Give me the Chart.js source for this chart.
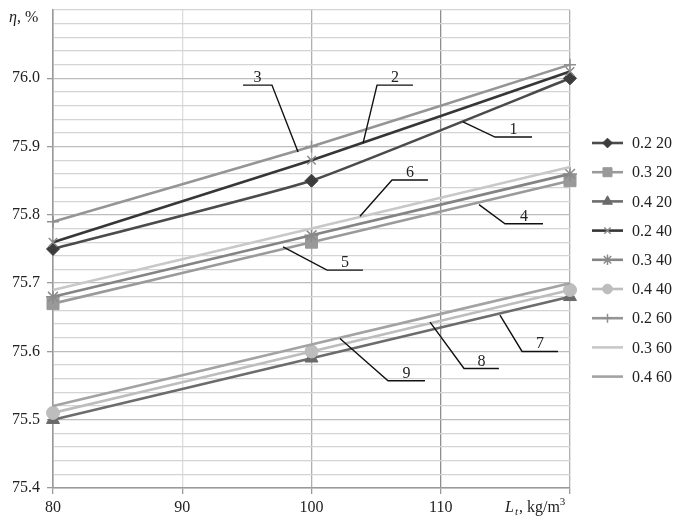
<!DOCTYPE html>
<html>
<head>
<meta charset="utf-8">
<script src="https://cdn.jsdelivr.net/npm/chart.js@4"></script>
<style>
  html, body { margin: 0; padding: 0; background: #fff; }
  #wrap { width: 673px; height: 520px; }
</style>
</head>
<body>
<div id="wrap"><canvas id="chart" width="673" height="520"></canvas></div>
<script>
'use strict'

// x values (Lt, kg/m3)
const xs = [80, 100, 120];

// series: label (airflow, temperature) -> efficiency, %
const labels = ['0.2 20', '0.3 20', '0.4 20', '0.2 40', '0.3 40', '0.4 40', '0.2 60', '0.3 60', '0.4 60'];
const s02_20 = [75.75, 75.85, 76.00];
const s03_20 = [75.67, 75.76, 75.85];
const s04_20 = [75.50, 75.59, 75.68];
const s02_40 = [75.76, 75.88, 76.01];
const s03_40 = [75.68, 75.77, 75.86];
const s04_40 = [75.51, 75.60, 75.69];
const s02_60 = [75.79, 75.90, 76.02];
const s03_60 = [75.69, 75.78, 75.87];
const s04_60 = [75.52, 75.61, 75.70];
const seriesValues = [s02_20, s03_20, s04_20, s02_40, s03_40, s04_40, s02_60, s03_60, s04_60];

// y ticks labelled every 0.1
const yTickLabels = [75.4, 75.5, 75.6, 75.7, 75.8, 75.9, 76.0];
const xTickLabels = [80, 90, 100, 110];

// curve callouts: number, point on curve (x, y), elbow (x, y), end of shelf x
const callouts = [
    ['3', 98.96, 75.892, 96.94, 75.990, 94.7],
    ['2', 103.99, 75.905, 105.07, 75.990, 107.85],
    ['1', 111.72, 75.936, 114.2, 75.914, 117.06],
    ['6', 103.75, 75.798, 106.23, 75.851, 109.01],
    ['5', 97.8, 75.753, 101.2, 75.719, 103.98],
    ['4', 112.96, 75.815, 114.97, 75.787, 117.91],
    ['9', 102.2, 75.619, 105.92, 75.557, 108.78],
    ['8', 109.17, 75.643, 111.8, 75.575, 114.5],
    ['7', 114.58, 75.653, 116.29, 75.600, 119.07]
];

const lineColors = ['#4b4b4b', '#9a9a9a', '#6c6c6c', '#363636', '#848484', '#bdbdbd', '#959595', '#c8c8c8', '#a3a3a3'];
const markColors = ['#3c3c3c', '#999999', '#6a6a6a', '#8a8a8a', '#8a8a8a', '#bdbdbd', '#8f8f8f', '#c8c8c8', '#a3a3a3'];
const markStyles = ['rectRot', 'rect', 'triangle', 'crossRot', 'star', 'circle', 'cross', false, false];
const markRadius = [6.5, 8.5, 7.5, 6, 7, 6.5, 6, 0, 0];

const serif = '"Liberation Serif", "DejaVu Serif", serif';

const datasets = labels.map((lab, i) => ({
    label: lab,
    data: xs.map((x, j) => ({ x: x, y: seriesValues[i][j] })),
    borderColor: lineColors[i],
    backgroundColor: markColors[i],
    pointBackgroundColor: markColors[i],
    pointBorderColor: markColors[i],
    pointStyle: markStyles[i],
    pointRadius: markRadius[i],
    pointBorderWidth: (markStyles[i] === 'crossRot' || markStyles[i] === 'star' || markStyles[i] === 'cross') ? 1.5 : 1,
    borderWidth: 2.6,
    tension: 0.12,
    clip: false,
    order: -i
}));

const majorY = v => yTickLabels.some(t => Math.abs(t - v) < 1e-6);

// legend, axis titles and the numbered callouts
const extrasPlugin = {
    id: 'extras',
    afterDatasetsDraw(chart) {
        const ctx = chart.ctx;
        const xS = chart.scales.x, yS = chart.scales.y;
        const area = chart.chartArea;
        ctx.save();

        // callouts
        ctx.strokeStyle = '#111';
        ctx.lineWidth = 1.4;
        ctx.fillStyle = '#222';
        ctx.font = '16px ' + serif;
        ctx.textAlign = 'center';
        ctx.textBaseline = 'alphabetic';
        callouts.forEach(c => {
            const px = xS.getPixelForValue(c[1]), py = yS.getPixelForValue(c[2]);
            const ex = xS.getPixelForValue(c[3]), ey = yS.getPixelForValue(c[4]);
            const hx = xS.getPixelForValue(c[5]);
            ctx.beginPath();
            ctx.moveTo(px, py);
            ctx.lineTo(ex, ey);
            ctx.lineTo(hx, ey);
            ctx.stroke();
            ctx.fillText(c[0], (ex + hx) / 2, ey - 3);
        });

        // legend
        const lx = area.right + 22;
        const ly0 = area.top + 133;
        ctx.textAlign = 'left';
        ctx.textBaseline = 'middle';
        chart.data.datasets.forEach((ds, i) => {
            const y = ly0 + i * 29.2;
            ctx.strokeStyle = ds.borderColor;
            ctx.lineWidth = 2.6;
            ctx.beginPath();
            ctx.moveTo(lx, y);
            ctx.lineTo(lx + 31, y);
            ctx.stroke();
            if (ds.pointStyle) {
                ctx.fillStyle = ds.pointBackgroundColor;
                ctx.strokeStyle = ds.pointBorderColor;
                ctx.lineWidth = ds.pointBorderWidth;
                Chart.helpers.drawPoint(ctx, {
                    pointStyle: ds.pointStyle,
                    radius: ds.pointRadius * 0.75,
                    rotation: 0,
                    borderWidth: ds.pointBorderWidth
                }, lx + 15.5, y);
            }
            ctx.fillStyle = '#222';
            ctx.fillText(ds.label, lx + 40, y + 1);
        });

        // y title: eta, %
        ctx.textBaseline = 'alphabetic';
        ctx.fillStyle = '#222';
        ctx.font = 'italic 16px ' + serif;
        ctx.fillText('\u03B7', 9, 22);
        let w = ctx.measureText('\u03B7').width;
        ctx.font = '16px ' + serif;
        ctx.fillText(', %', 9 + w, 22);

        // x title: Lt, kg/m3
        let x = 505;
        const base = 512;
        ctx.font = 'italic 16px ' + serif;
        ctx.fillText('L', x, base);
        x += ctx.measureText('L').width + 1;
        ctx.font = 'italic 11px ' + serif;
        ctx.fillText('t', x, base + 3);
        x += ctx.measureText('t').width + 1;
        ctx.font = '16px ' + serif;
        ctx.fillText(', kg/m', x, base);
        x += ctx.measureText(', kg/m').width;
        ctx.font = '11px ' + serif;
        ctx.fillText('3', x, base - 7);

        ctx.restore();
    }
};

const vGrid = ['#9a9a9a', '#dcdcdc', '#b0b0b0', '#8e8e8e', '#b0b0b0'];

new Chart(document.getElementById('chart').getContext('2d'), {
    type: 'line',
    data: { datasets: datasets },
    options: {
        responsive: false,
        animation: false,
        layout: { padding: { top: 10, right: 103, left: 0, bottom: 0 } },
        plugins: { legend: { display: false }, tooltip: { enabled: false } },
        elements: { point: { hoverRadius: 0 } },
        scales: {
            x: {
                type: 'linear',
                min: 80,
                max: 120,
                afterFit: s => { s.height = 32; s.paddingLeft = 0; s.paddingRight = 0; },
                border: { display: true, color: '#9a9a9a', width: 1.5 },
                grid: {
                    color: c => vGrid[c.index] || '#b0b0b0',
                    lineWidth: 1.3,
                    tickLength: 6,
                    tickColor: '#9a9a9a'
                },
                ticks: {
                    stepSize: 10,
                    padding: 4,
                    color: '#222',
                    font: { family: serif, size: 16 },
                    callback: v => xTickLabels.includes(v) ? String(v) : ''
                }
            },
            y: {
                type: 'linear',
                min: 75.4,
                max: 76.1,
                afterFit: s => { s.width = 53; s.paddingTop = 0; s.paddingBottom = 0; },
                border: { display: true, color: '#9a9a9a', width: 1.5 },
                grid: {
                    color: c => majorY(c.tick.value) ? '#bdbdbd' : '#d4d4d4',
                    lineWidth: 1.3,
                    tickLength: 6,
                    tickColor: c => majorY(c.tick.value) ? '#9a9a9a' : 'rgba(0,0,0,0)'
                },
                ticks: {
                    stepSize: 0.02,
                    maxTicksLimit: 60,
                    autoSkip: false,
                    padding: 7,
                    color: '#222',
                    font: { family: serif, size: 16 },
                    callback: v => majorY(v) ? v.toFixed(1) : ''
                }
            }
        }
    },
    plugins: [extrasPlugin]
});
</script>
</body>
</html>
